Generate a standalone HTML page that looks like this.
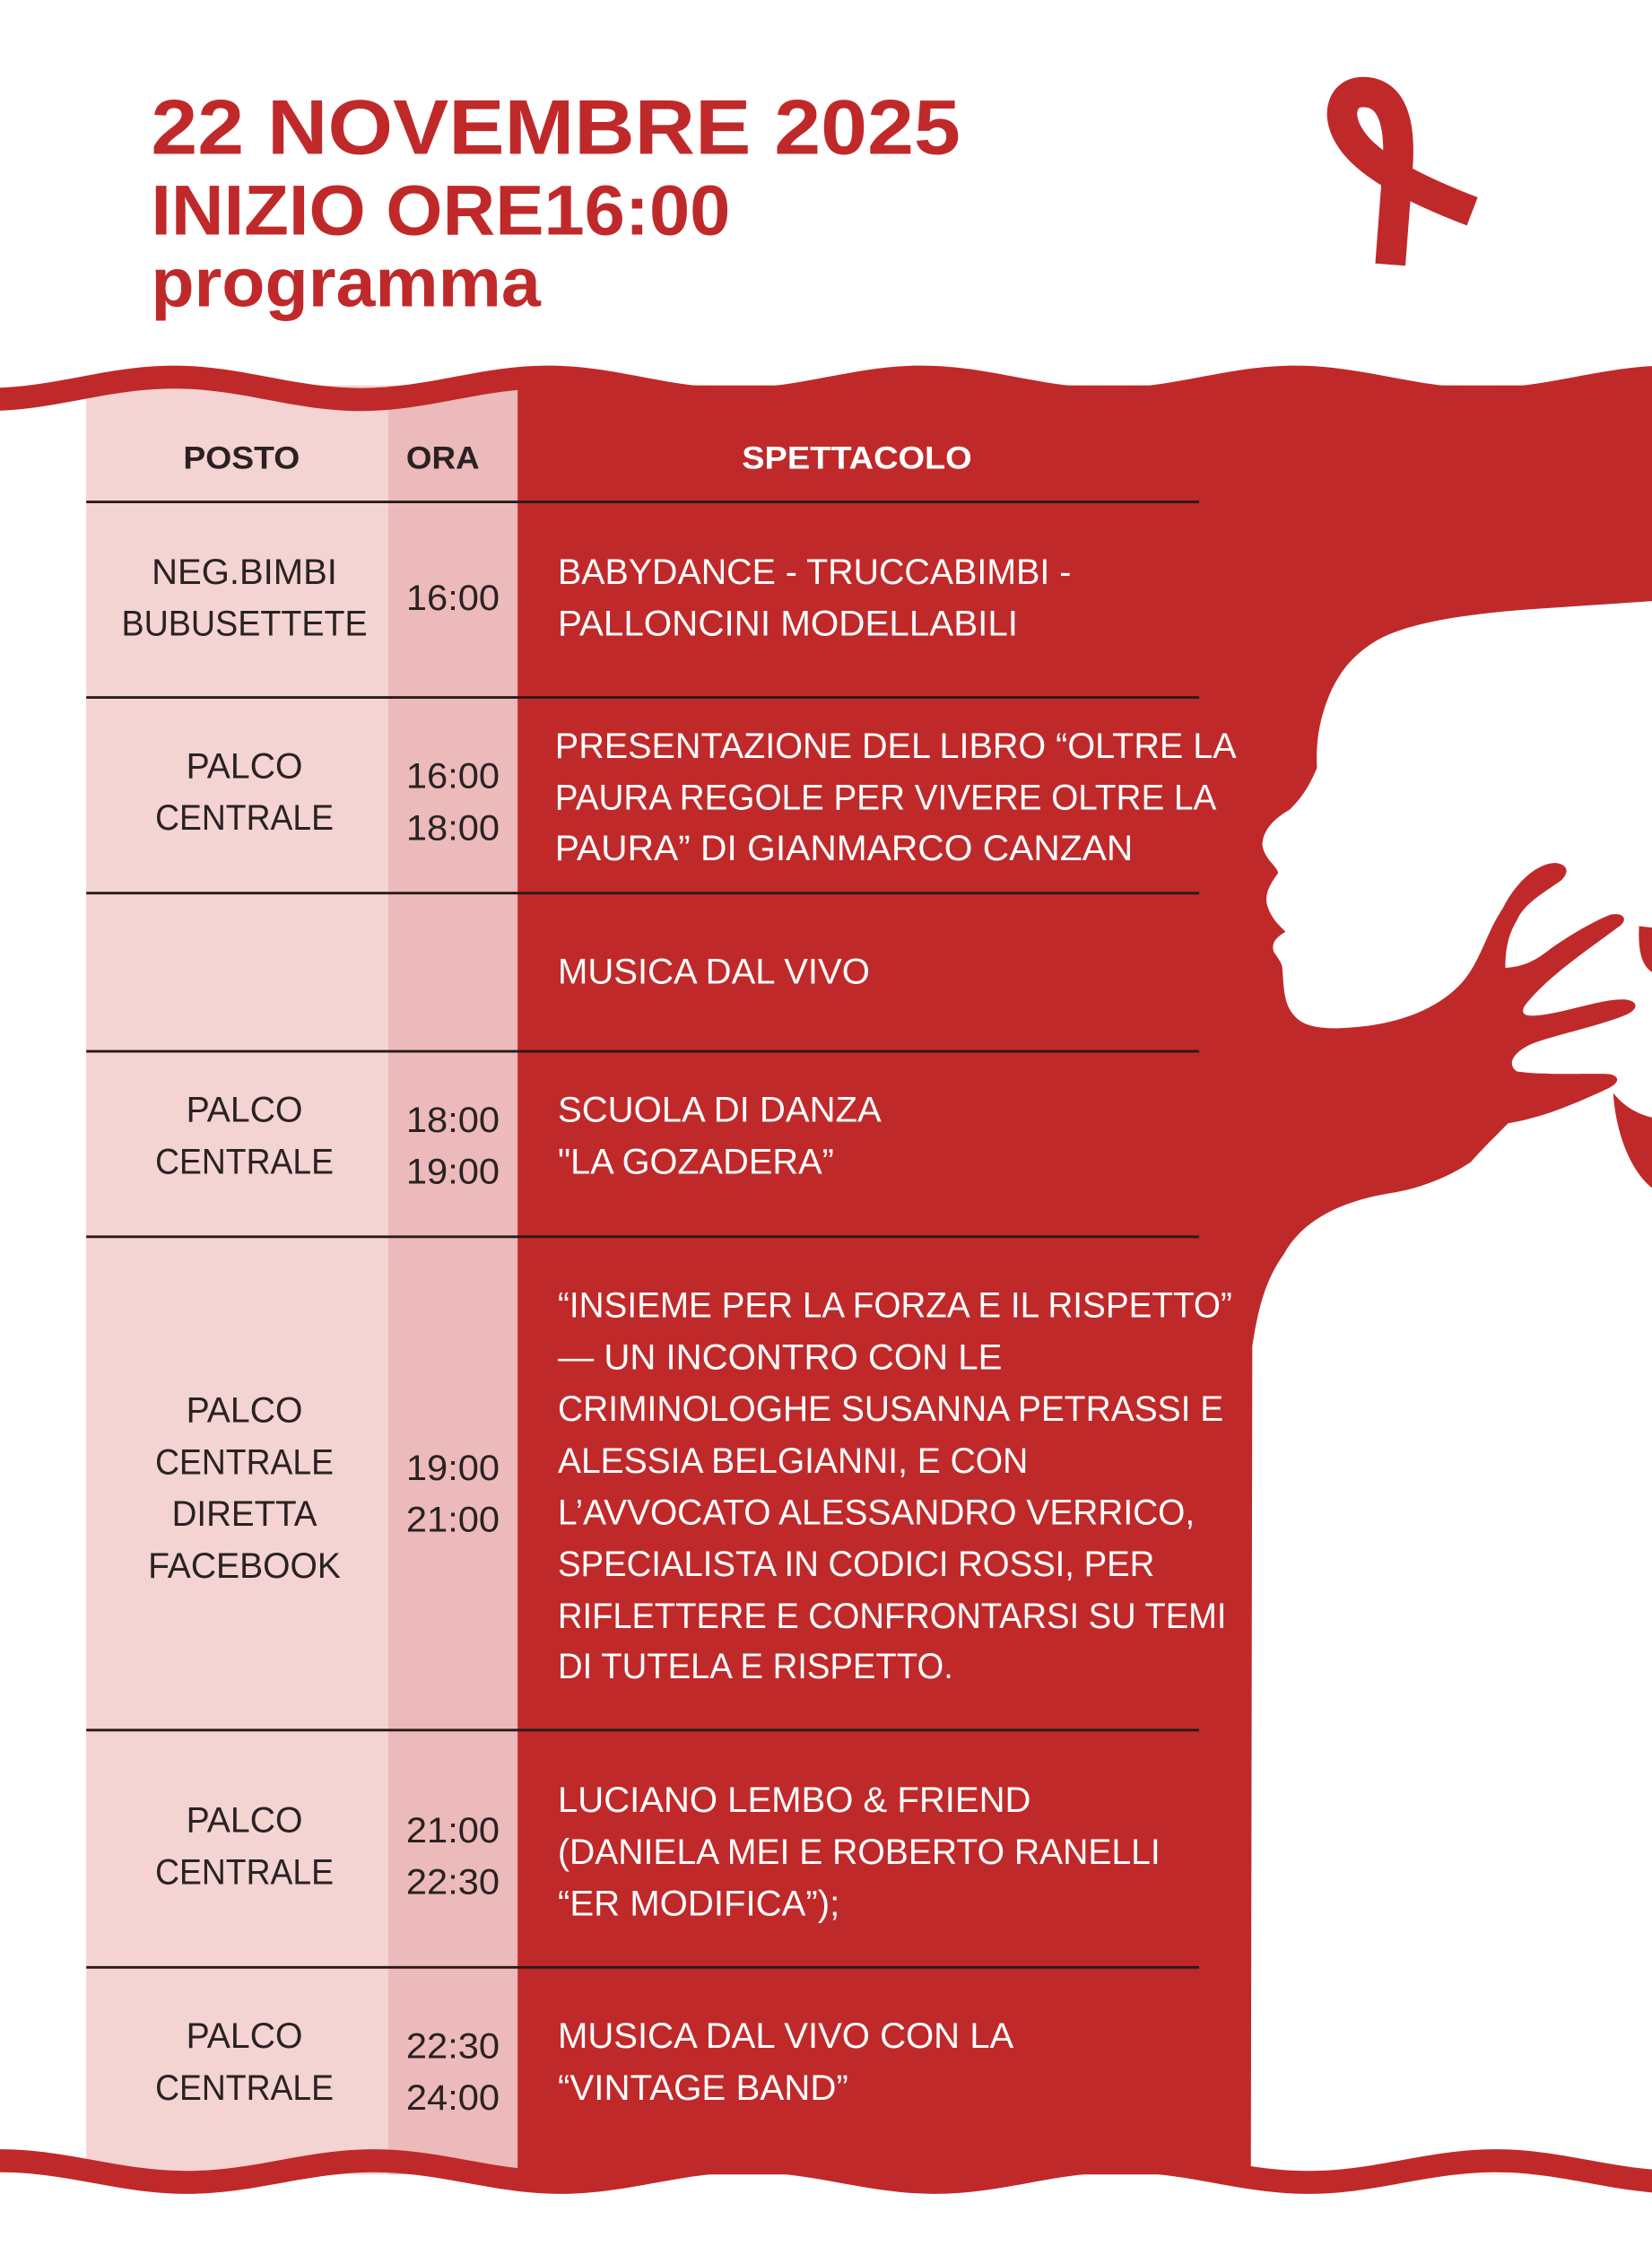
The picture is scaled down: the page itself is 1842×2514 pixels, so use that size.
<!DOCTYPE html>
<html><head><meta charset="utf-8"><style>
html,body{margin:0;padding:0;background:#fff;}
svg{display:block;}
text{font-family:"Liberation Sans",Arial,sans-serif;}
.t{fill:#c0292a;font-weight:bold;}
.c{fill:#2a2222;font-size:25px;text-anchor:middle;}
.s{fill:#fff;font-size:25px;}
.h{font-size:22px;font-weight:bold;}
</style></head><body>
<svg width="1842" height="2514" viewBox="0 0 1149 1568" preserveAspectRatio="none" xmlns="http://www.w3.org/2000/svg">
<rect width="1149" height="1568" fill="#fff"/>
<text class="t" x="105" y="107" font-size="54" textLength="563" lengthAdjust="spacingAndGlyphs">22 NOVEMBRE 2025</text>
<text class="t" x="105" y="163" font-size="49" textLength="403" lengthAdjust="spacingAndGlyphs">INIZIO ORE16:00</text>
<text class="t" x="105" y="213" font-size="48" textLength="271" lengthAdjust="spacingAndGlyphs">programma</text>
<path d="M967,184 L972,118 C975,79 965,64 948,64 C934,64 929,79 938,94 C948,112 977,129 1024,147" fill="none" stroke="#c0292a" stroke-width="21"/>
<rect x="60" y="268" width="210" height="1244" fill="#f4d3d3"/>
<rect x="270" y="268" width="90" height="1244" fill="#ecbaba"/>
<rect x="360" y="268" width="789" height="1244" fill="#c0292a"/>
<path fill="#fff" d="M1149,418 L1060,424 C1010,428 980,434 960,444 C940,455 932,468 926,480 C918,498 915,515 916,534 C910,548 905,555 897,563 C885,570 878,578 878,588 C880,598 888,602 889,607 C884,614 880,620 881,628 C884,640 892,645 894,648 C887,652 884,656 886,662 C890,668 892,670 892,675 C893,688 893,698 900,706 C906,713 915,715 930,715 C970,714 1000,702 1017,683 C1030,668 1034,648 1045,632 C1055,612 1070,600 1082,600 C1090,601 1092,606 1086,612 C1075,620 1060,628 1055,640 C1049,650 1047,660 1047,673 C1060,672 1068,668 1078,660 C1095,648 1110,640 1120,636 C1130,634 1133,640 1125,645 C1105,660 1075,680 1060,700 C1058,705 1060,707 1070,706 C1090,704 1115,694 1130,695 C1140,696 1140,702 1130,706 C1110,714 1080,720 1065,726 C1052,732 1048,740 1055,745 C1075,748 1110,746 1120,747 C1128,749 1125,754 1118,757 C1095,768 1070,778 1049,781 C1040,790 1030,800 1023,808 C1005,820 985,827 965,830 C930,836 905,850 893,872 C880,890 875,910 871,936 L870,1512 L1149,1512 Z"/>
<path fill="#c0292a" d="M1140,644 L1149,645 L1149,676 C1143,672 1139,664 1140,644 Z"/>
<path fill="#c0292a" d="M1122,760 C1130,770 1140,775 1149,777 L1149,826 C1135,815 1124,790 1122,760 Z"/>
<path fill="#c0292a" d="M-9,269.8 C38,269.8 74,254.2 121,254.2 S204,269.8 251,269.8 S334,254.2 381,254.2 S464,269.8 511,269.8 S594,254.2 641,254.2 S724,269.8 771,269.8 S854,254.2 901,254.2 S984,269.8 1031,269.8 S1114,254.2 1161,254.2 L1161,270.2 C1114,270.2 1078,285.8 1031,285.8 S948,270.2 901,270.2 S818,285.8 771,285.8 S688,270.2 641,270.2 S558,285.8 511,285.8 S428,270.2 381,270.2 S298,285.8 251,285.8 S168,270.2 121,270.2 S38,285.8 -9,285.8 Z"/>
<path fill="#c0292a" d="M0,1494.5 C47,1494.5 83,1509.5 130,1509.5 S213,1494.5 260,1494.5 S343,1509.5 390,1509.5 S473,1494.5 520,1494.5 S603,1509.5 650,1509.5 S733,1494.5 780,1494.5 S863,1509.5 910,1509.5 S993,1494.5 1040,1494.5 S1123,1509.5 1170,1509.5 L1170,1525.5 C1123,1525.5 1087,1510.5 1040,1510.5 S957,1525.5 910,1525.5 S827,1510.5 780,1510.5 S697,1525.5 650,1525.5 S567,1510.5 520,1510.5 S437,1525.5 390,1525.5 S307,1510.5 260,1510.5 S177,1525.5 130,1525.5 S47,1510.5 0,1510.5 Z"/>
<g stroke="#2a1a1a" stroke-width="1.8">
<line x1="60" y1="349" x2="834" y2="349"/>
<line x1="60" y1="485" x2="834" y2="485"/>
<line x1="60" y1="621" x2="834" y2="621"/>
<line x1="60" y1="731" x2="834" y2="731"/>
<line x1="60" y1="860" x2="834" y2="860"/>
<line x1="60" y1="1203" x2="834" y2="1203"/>
<line x1="60" y1="1368" x2="834" y2="1368"/>
</g>
<text class="c h" x="168" y="326" textLength="81" lengthAdjust="spacingAndGlyphs">POSTO</text>
<text class="c h" x="308" y="326" textLength="51" lengthAdjust="spacingAndGlyphs">ORA</text>
<text class="s h" x="596" y="326" text-anchor="middle" textLength="160" lengthAdjust="spacingAndGlyphs">SPETTACOLO</text>
<g class="c">
<text x="170" y="406" textLength="129" lengthAdjust="spacingAndGlyphs">NEG.BIMBI</text>
<text x="170" y="442" textLength="171" lengthAdjust="spacingAndGlyphs">BUBUSETTETE</text>
<text x="170" y="541" textLength="81" lengthAdjust="spacingAndGlyphs">PALCO</text>
<text x="170" y="577" textLength="124" lengthAdjust="spacingAndGlyphs">CENTRALE</text>
<text x="170" y="780" textLength="81" lengthAdjust="spacingAndGlyphs">PALCO</text>
<text x="170" y="816" textLength="124" lengthAdjust="spacingAndGlyphs">CENTRALE</text>
<text x="170" y="989" textLength="81" lengthAdjust="spacingAndGlyphs">PALCO</text>
<text x="170" y="1025" textLength="124" lengthAdjust="spacingAndGlyphs">CENTRALE</text>
<text x="170" y="1061" textLength="101" lengthAdjust="spacingAndGlyphs">DIRETTA</text>
<text x="170" y="1097" textLength="134" lengthAdjust="spacingAndGlyphs">FACEBOOK</text>
<text x="170" y="1274" textLength="81" lengthAdjust="spacingAndGlyphs">PALCO</text>
<text x="170" y="1310" textLength="124" lengthAdjust="spacingAndGlyphs">CENTRALE</text>
<text x="170" y="1424" textLength="81" lengthAdjust="spacingAndGlyphs">PALCO</text>
<text x="170" y="1460" textLength="124" lengthAdjust="spacingAndGlyphs">CENTRALE</text>
</g>
<g class="c">
<text x="315" y="424" textLength="65" lengthAdjust="spacingAndGlyphs">16:00</text>
<text x="315" y="548" textLength="65" lengthAdjust="spacingAndGlyphs">16:00</text>
<text x="315" y="584" textLength="65" lengthAdjust="spacingAndGlyphs">18:00</text>
<text x="315" y="787" textLength="65" lengthAdjust="spacingAndGlyphs">18:00</text>
<text x="315" y="823" textLength="65" lengthAdjust="spacingAndGlyphs">19:00</text>
<text x="315" y="1029" textLength="65" lengthAdjust="spacingAndGlyphs">19:00</text>
<text x="315" y="1065" textLength="65" lengthAdjust="spacingAndGlyphs">21:00</text>
<text x="315" y="1281" textLength="65" lengthAdjust="spacingAndGlyphs">21:00</text>
<text x="315" y="1317" textLength="65" lengthAdjust="spacingAndGlyphs">22:30</text>
<text x="315" y="1431" textLength="65" lengthAdjust="spacingAndGlyphs">22:30</text>
<text x="315" y="1467" textLength="65" lengthAdjust="spacingAndGlyphs">24:00</text>
</g>
<g class="s">
<text x="388" y="406" textLength="357" lengthAdjust="spacingAndGlyphs">BABYDANCE - TRUCCABIMBI -</text>
<text x="388" y="442" textLength="320" lengthAdjust="spacingAndGlyphs">PALLONCINI MODELLABILI</text>
<text x="386" y="527" textLength="474" lengthAdjust="spacingAndGlyphs">PRESENTAZIONE DEL LIBRO “OLTRE LA</text>
<text x="386" y="563" textLength="460" lengthAdjust="spacingAndGlyphs">PAURA REGOLE PER VIVERE OLTRE LA</text>
<text x="386" y="598" textLength="402" lengthAdjust="spacingAndGlyphs">PAURA” DI GIANMARCO CANZAN</text>
<text x="388" y="684" textLength="217" lengthAdjust="spacingAndGlyphs">MUSICA DAL VIVO</text>
<text x="388" y="780" textLength="225" lengthAdjust="spacingAndGlyphs">SCUOLA DI DANZA</text>
<text x="388" y="816" textLength="192" lengthAdjust="spacingAndGlyphs">"LA GOZADERA”</text>
<text x="388" y="916" textLength="469" lengthAdjust="spacingAndGlyphs">“INSIEME PER LA FORZA E IL RISPETTO”</text>
<text x="388" y="952" textLength="309" lengthAdjust="spacingAndGlyphs">— UN INCONTRO CON LE</text>
<text x="388" y="988" textLength="463" lengthAdjust="spacingAndGlyphs">CRIMINOLOGHE SUSANNA PETRASSI E</text>
<text x="388" y="1024" textLength="327" lengthAdjust="spacingAndGlyphs">ALESSIA BELGIANNI, E CON</text>
<text x="388" y="1060" textLength="443" lengthAdjust="spacingAndGlyphs">L’AVVOCATO ALESSANDRO VERRICO,</text>
<text x="388" y="1096" textLength="415" lengthAdjust="spacingAndGlyphs">SPECIALISTA IN CODICI ROSSI, PER</text>
<text x="388" y="1132" textLength="465" lengthAdjust="spacingAndGlyphs">RIFLETTERE E CONFRONTARSI SU TEMI</text>
<text x="388" y="1167" textLength="275" lengthAdjust="spacingAndGlyphs">DI TUTELA E RISPETTO.</text>
<text x="388" y="1260" textLength="329" lengthAdjust="spacingAndGlyphs">LUCIANO LEMBO &amp; FRIEND</text>
<text x="388" y="1296" textLength="419" lengthAdjust="spacingAndGlyphs">(DANIELA MEI E ROBERTO RANELLI</text>
<text x="388" y="1332" textLength="196" lengthAdjust="spacingAndGlyphs">“ER MODIFICA”);</text>
<text x="388" y="1424" textLength="317" lengthAdjust="spacingAndGlyphs">MUSICA DAL VIVO CON LA</text>
<text x="388" y="1460" textLength="202" lengthAdjust="spacingAndGlyphs">“VINTAGE BAND”</text>
</g>
</svg>
</body></html>
